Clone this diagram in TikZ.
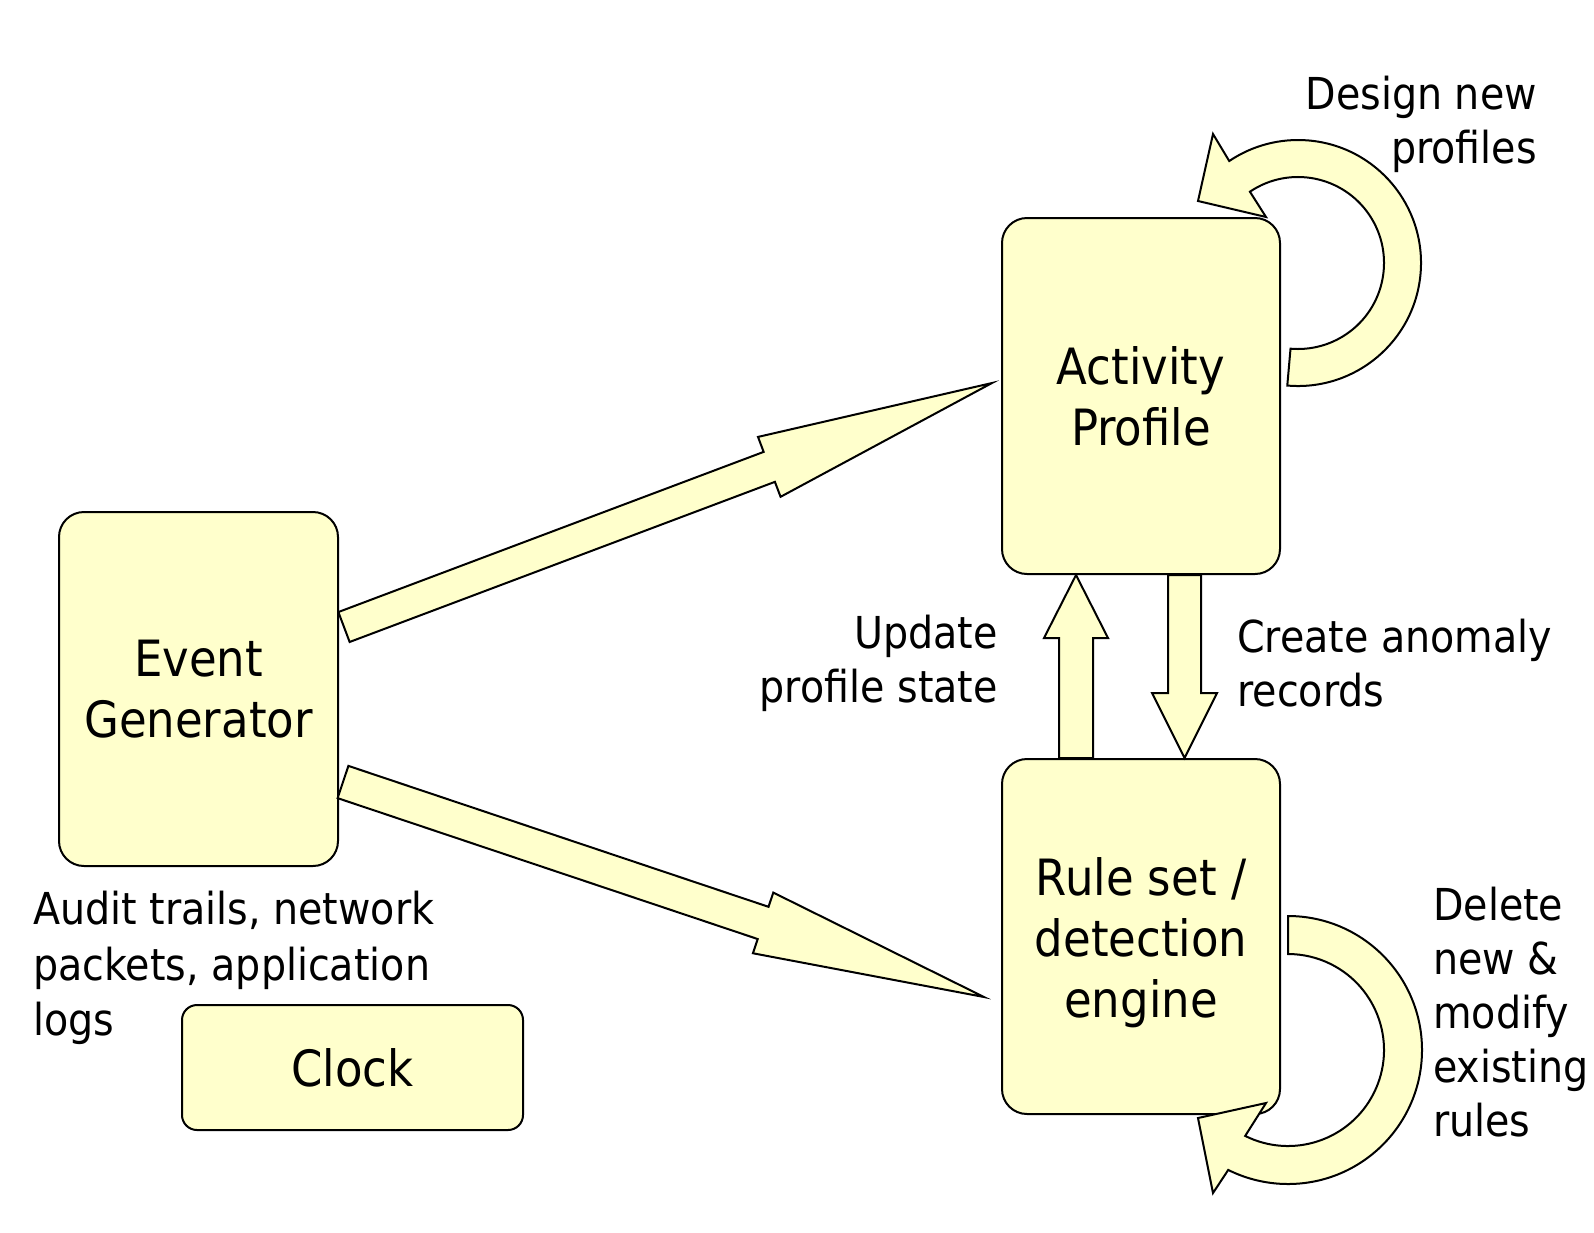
\documentclass[tikz,border=0pt]{standalone}
\usepackage{fontspec}
\setmainfont{DejaVu Sans}[FakeStretch=0.9]
\usetikzlibrary{calc}
\definecolor{blkbg}{HTML}{FFFFCC}
\tikzset{pxp/.style={
  x=1pt,
  y=-1pt
}}
\tikzset{blk/.style={
  draw=black,
  fill=blkbg,
  line width=2pt,
  rounded corners=25pt,
  align=center,
  inner sep=0pt,
  font=\fontsize{50}{61}\selectfont
}}
\tikzset{arw/.style={
  draw=black,
  fill=blkbg,
  line width=2pt,
  line join=miter
}}
\tikzset{lbl/.style={
  inner sep=0pt,
  font=\fontsize{44}{54}\selectfont
}}
% block arrow: from, to, shaft half width, head half width, head length
\newcommand{\blockarrow}[5]{%
  \path ($(#2)!#5!(#1)$) coordinate (hb);
  \filldraw[arw] ($(#1)!#3!90:(#2)$) -- ($(hb)!#3!90:(#2)$)
    -- ($(hb)!#4!90:(#2)$) -- (#2) -- ($(hb)!#4!-90:(#2)$)
    -- ($(hb)!#3!-90:(#2)$) -- ($(#1)!#3!-90:(#2)$) -- cycle;
}

\begin{document}
\begin{tikzpicture}[pxp]
    \useasboundingbox (0,0) rectangle (1594,1232);

    %% Boxes

    \node[blk,minimum width=279pt,minimum height=354pt] (eg) at (198.5,689) {Event\\Generator};
    \node[blk,minimum width=278pt,minimum height=356pt] (ap) at (1141,396) {Activity\\Profile};
    \node[blk,minimum width=278pt,minimum height=355pt] (rs) at (1141,936.5) {\rule{0pt}{50pt}Rule set /\\detection\\engine};
    \node[blk,rounded corners=15pt,minimum width=341pt,minimum height=125pt] (ck) at (352.5,1067.5) {Clock};

    %% Labels

    \node[lbl,anchor=east,align=right] (dn) at (1537,124) {Design new\\profiles};
    \node[lbl,anchor=east,align=right] (ups) at (998,663) {Update\\profile state};
    \node[lbl,anchor=west,align=left] (car) at (1237,663) {Create anomaly\\records};
    \node[lbl,anchor=west,align=left,font=\fontsize{44}{55.5}\selectfont] (au) at (33,968) {Audit trails, network\\packets, application\\logs};
    \node[lbl,anchor=west,align=left] (dl) at (1433,1012) {Delete\\new \&\\modify\\existing\\rules};

    %% Arrows

    % Straight ones
    \coordinate (u1) at ($(eg.east)+(5,-62)$);
    \coordinate (u2) at ($(ap.west)+(-9,-13)$);
    \coordinate (l1) at ($(eg.east)+(4,93)$);
    \coordinate (l2) at ($(rs.west)+(-17,60.5)$);
    \coordinate (v1) at ($(rs.north)+(-65,0)$);
    \coordinate (v2) at ($(ap.south)+(-65,0)$);
    \coordinate (w1) at ($(ap.south)+(43.5,0)$);
    \coordinate (w2) at ($(rs.north)+(43.5,0)$);
    \blockarrow{u1}{u2}{16pt}{32pt}{238pt}
    \blockarrow{l1}{l2}{17pt}{32pt}{233pt}
    \blockarrow{v1}{v2}{17pt}{32pt}{63pt}
    \blockarrow{w1}{w2}{16.5pt}{32.5pt}{65pt}

    % Loops
    \coordinate (apc) at ($(ap.north east)+(17,46)$);
    \filldraw[arw] ([shift={(95:123)}]apc)
      arc[start angle=95,end angle=-124,radius=123]
      -- ([shift={(-85,-129)}]apc) -- ([shift={(-100,-62)}]apc)
      -- ([shift={(-32,-46)}]apc) -- ([shift={(-124:86)}]apc)
      arc[start angle=-124,end angle=95,radius=86] -- cycle;
    \coordinate (rsc) at ($(rs.south east)+(7,-65)$);
    \filldraw[arw] ([shift={(-90:134)}]rsc)
      arc[start angle=-90,end angle=116.5,radius=134]
      -- ([shift={(-75,143)}]rsc) -- ([shift={(-90,68)}]rsc)
      -- ([shift={(-22,53)}]rsc) -- ([shift={(116.5:96)}]rsc)
      arc[start angle=116.5,end angle=-90,radius=96] -- cycle;

\end{tikzpicture}
\end{document}
